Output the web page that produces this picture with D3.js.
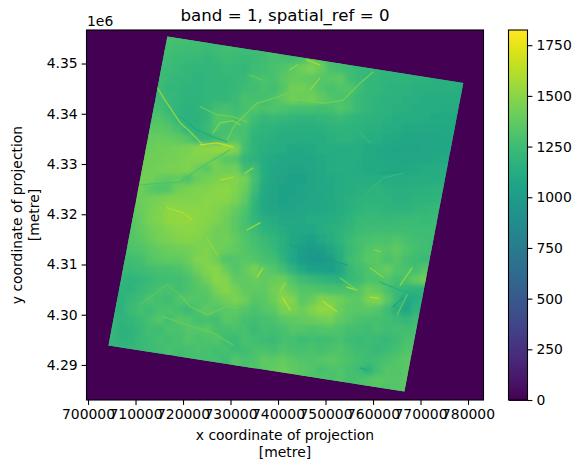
<!DOCTYPE html>
<html>
<head>
<meta charset="utf-8">
<script src="https://cdn.jsdelivr.net/npm/d3@7"></script>
<style>
html, body { margin: 0; padding: 0; background: #fff; }
text { font-family: "DejaVu Sans", sans-serif; fill: #000; }
</style>
</head>
<body>
<svg id="chart" width="581" height="469"></svg>
<script>
// raster: one row every 2 km, first cell at 704 km
var xStart = 704000, yStart = 4356000, cellSize = 2000
var rowStart = [6,5,5,5,5,5,5,4,4,4,4,3,3,3,3,3,3,2,2,2,2,2,1,1,1,1,0,0,0,0,0,0,7,13,20,26]
var rowValues = [
    [1290,1280,1290,1270,1260],
    [1280,1270,1260,1250,1260,1240,1250,1270,1260,1250,1260,1270,1280],
    [1270,1250,1240,1230,1220,1210,1220,1250,1240,1230,1240,1260,1290,1280,1270,1310,1380,1360,1280,1260],
    [1260,1240,1220,1210,1200,1200,1210,1230,1220,1210,1250,1260,1300,1320,1360,1420,1460,1400,1300,1280,1250,1230,1220,1210,1200,1190,1190],
    [1250,1220,1210,1200,1190,1200,1210,1210,1220,1230,1280,1300,1290,1350,1390,1390,1370,1330,1350,1370,1270,1230,1210,1200,1190,1180,1180,1170,1170,1160,1160,1160,1160],
    [1240,1210,1200,1190,1190,1200,1200,1200,1220,1250,1270,1300,1270,1330,1420,1430,1390,1340,1300,1320,1330,1250,1210,1200,1180,1170,1170,1160,1150,1150,1150,1150,1140],
    [1250,1220,1200,1180,1180,1200,1210,1210,1240,1300,1280,1280,1310,1370,1430,1400,1430,1380,1330,1310,1280,1230,1210,1190,1170,1170,1160,1150,1140,1140,1140,1130,1130],
    [1290,1270,1220,1190,1170,1180,1200,1270,1290,1260,1280,1320,1300,1320,1310,1290,1280,1280,1270,1280,1320,1290,1230,1200,1180,1170,1160,1150,1140,1140,1130,1120,1120],
    [1320,1320,1280,1200,1170,1170,1210,1320,1320,1280,1330,1250,1210,1220,1210,1200,1190,1190,1200,1210,1230,1200,1190,1180,1170,1160,1140,1130,1130,1120,1110,1110,1110],
    [1360,1360,1340,1290,1190,1190,1230,1310,1280,1300,1290,1210,1190,1180,1160,1150,1150,1150,1160,1170,1190,1180,1170,1160,1150,1130,1120,1100,1100,1100,1100,1100,1100],
    [1390,1400,1390,1370,1330,1210,1210,1260,1310,1330,1280,1190,1170,1150,1140,1130,1120,1130,1140,1150,1170,1170,1150,1140,1130,1110,1100,1080,1080,1080,1080,1090,1090],
    [1400,1410,1420,1430,1440,1460,1490,1510,1530,1530,1480,1270,1190,1150,1140,1120,1100,1100,1110,1130,1140,1140,1130,1130,1110,1100,1080,1070,1070,1070,1080,1090,1090,1090],
    [1410,1420,1430,1440,1450,1470,1480,1470,1430,1350,1330,1210,1170,1140,1110,1090,1080,1080,1090,1110,1120,1130,1130,1120,1110,1100,1090,1090,1080,1090,1090,1100,1110],
    [1420,1430,1440,1450,1460,1470,1420,1350,1440,1420,1430,1260,1260,1130,1090,1070,1060,1060,1080,1100,1120,1130,1130,1120,1110,1110,1100,1100,1100,1110,1120,1120,1130],
    [1430,1440,1390,1370,1390,1320,1400,1440,1460,1480,1480,1440,1280,1120,1080,1060,1050,1050,1070,1090,1110,1120,1130,1130,1130,1120,1120,1120,1120,1130,1140,1140,1150],
    [1420,1350,1320,1340,1430,1450,1470,1480,1500,1510,1470,1410,1250,1110,1070,1050,1050,1060,1070,1090,1100,1120,1130,1150,1160,1170,1160,1150,1150,1160,1160,1170,1180],
    [1410,1430,1450,1470,1470,1470,1480,1500,1500,1490,1460,1370,1200,1100,1060,1050,1060,1060,1080,1090,1110,1120,1150,1170,1180,1180,1170,1160,1160,1170,1180,1190,1200],
    [1360,1400,1440,1470,1500,1500,1500,1500,1500,1480,1450,1390,1320,1190,1100,1070,1060,1060,1080,1090,1100,1110,1130,1160,1190,1210,1200,1190,1190,1190,1200,1210,1220],
    [1350,1390,1450,1480,1520,1530,1530,1510,1490,1470,1420,1360,1290,1200,1150,1120,1090,1090,1100,1120,1120,1140,1150,1180,1220,1230,1230,1220,1230,1240,1240,1230,1240],
    [1340,1380,1420,1450,1480,1500,1510,1500,1470,1420,1420,1360,1300,1250,1190,1160,1120,1100,1090,1090,1120,1150,1170,1210,1240,1260,1260,1260,1260,1260,1250,1250,1250],
    [1330,1350,1400,1440,1460,1480,1490,1480,1450,1420,1430,1390,1330,1280,1240,1200,1150,1100,1060,1050,1090,1130,1190,1240,1280,1290,1310,1300,1320,1290,1270,1260,1250],
    [1310,1320,1360,1390,1410,1430,1430,1450,1470,1430,1410,1380,1340,1300,1260,1220,1160,1090,1030,990,1020,1070,1150,1230,1280,1330,1350,1340,1370,1320,1280,1260,1250],
    [1270,1260,1280,1330,1360,1380,1370,1410,1470,1480,1420,1320,1330,1350,1330,1290,1270,1190,1090,1010,970,960,1020,1130,1250,1300,1350,1360,1300,1340,1280,1250,1240],
    [1240,1230,1250,1270,1290,1290,1310,1350,1420,1480,1490,1410,1330,1380,1450,1370,1330,1270,1180,1100,1050,1040,1020,1070,1210,1270,1310,1360,1400,1320,1300,1280,1340],
    [1210,1190,1200,1230,1260,1270,1270,1300,1360,1430,1500,1480,1370,1370,1400,1380,1400,1410,1320,1260,1220,1200,1190,1160,1220,1250,1310,1310,1320,1270,1300,1380,1430],
    [1190,1170,1220,1260,1290,1300,1270,1300,1340,1360,1450,1490,1440,1370,1370,1370,1430,1460,1390,1330,1330,1310,1300,1300,1300,1340,1410,1380,1300,1240,1200,1170,1190],
    [1210,1180,1220,1250,1310,1280,1260,1320,1340,1330,1330,1390,1430,1460,1420,1340,1360,1410,1490,1480,1350,1390,1470,1450,1420,1370,1360,1450,1480,1360,1220,1110,1140,1230],
    [1190,1170,1240,1280,1250,1300,1310,1280,1240,1310,1370,1330,1350,1370,1340,1300,1340,1360,1450,1460,1410,1470,1520,1510,1410,1360,1350,1360,1330,1250,1150,1080,1190],
    [1220,1190,1210,1240,1280,1340,1270,1340,1330,1280,1290,1270,1350,1330,1280,1270,1290,1300,1350,1370,1390,1400,1420,1440,1370,1340,1300,1290,1280,1270,1240,1210,1250],
    [1210,1170,1180,1220,1270,1250,1310,1300,1340,1330,1360,1300,1280,1300,1290,1240,1280,1270,1290,1340,1330,1310,1320,1330,1310,1280,1270,1250,1290,1260,1270,1270,1290],
    [1210,1170,1190,1230,1250,1280,1270,1290,1330,1300,1310,1330,1260,1240,1300,1270,1250,1240,1280,1280,1250,1270,1260,1270,1300,1250,1240,1250,1240,1220,1260,1300,1310],
    [1190,1200,1210,1230,1250,1260,1300,1270,1280,1300,1290,1270,1290,1250,1260,1300,1310,1280,1320,1290,1290,1310,1280,1310,1320,1290,1260,1250,1220,1250,1280,1320,1330],
    [1250,1300,1290,1280,1280,1250,1330,1290,1310,1370,1360,1390,1350,1330,1320,1340,1360,1330,1310,1280,1250,1270,1300,1330,1360],
    [1340,1300,1320,1350,1390,1410,1380,1350,1330,1290,1310,1320,1290,1250,1190,1280,1340,1330,1350],
    [1320,1310,1330,1300,1320,1280,1300,1330,1350,1340,1340,1360],
    [1310,1330,1340,1320,1340,1350]
]

// corners of the valid scene, in km
var sceneCorners = [[716.7, 4355.4], [779.0, 4346.1], [766.6, 4284.7], [704.3, 4293.9]]

// ridges and valleys that are too narrow for the 2 km rows, in km
var streakValues = [1560, 1720, 1100, 1420, 1500, 1450, 1450, 1600, 1550, 1550, 1400, 1300, 1620, 1600, 1620, 1600, 1620, 1660, 1550, 1420, 1400, 1350, 1520, 1650, 1660, 1660, 1550, 1560, 1020, 1120, 1000, 1050, 1450, 1400, 1520, 1040, 1230, 1250]
var streakLines = [
    [[714.5,4345.3],[716.2,4342.7],[719.4,4338.2],[721.5,4336.4],[724.2,4333.8]],
    [[723.6,4333.8],[727.2,4334.2],[730.5,4333.4]],
    [[719.4,4339.4],[722.9,4336.8],[726.3,4335.4],[729.3,4334.4]],
    [[723.6,4341.4],[727.2,4339.8],[730.5,4339.4],[733.5,4338.4]],
    [[726.3,4336.2],[727.8,4338.2],[730.5,4338.6],[732,4337.8]],
    [[729.3,4334.8],[730.5,4337.2],[732.6,4339.4],[735.6,4342.1],[739.8,4343.3],[742.5,4344.3]],
    [[742.5,4343.1],[745.3,4342.7],[749.5,4342.1],[753.7,4342.7],[757.3,4346.1],[760,4348.3]],
    [[746.1,4350.7],[748.8,4349.7]],
    [[746.7,4344.7],[748.8,4347.1]],
    [[742.5,4348.7],[744,4349.7]],
    [[734.1,4347.7],[736.8,4346.7]],
    [[729.9,4332.8],[726.3,4330.8],[722.9,4328.8],[719.4,4326.4],[715.2,4326.2],[710.9,4325.8]],
    [[727.8,4326.8],[730.5,4327.4]],
    [[733.1,4328.2],[734.7,4329.2]],
    [[716.6,4321.3],[720,4320.3],[721.9,4318.9]],
    [[733.5,4316.9],[736.2,4318.3]],
    [[735.6,4307.5],[736.8,4309.3]],
    [[741,4303.3],[742.5,4301]],
    [[740.4,4304.5],[741.5,4306.3]],
    [[719.4,4303.9],[721.5,4301.6],[725.1,4300],[729.3,4301.6],[732,4301.4]],
    [[715.8,4299.6],[720.8,4298],[726.3,4296.4],[730.5,4294]],
    [[710.9,4302],[716.6,4306],[719.4,4303.9]],
    [[725,4315.3],[727.2,4311.9]],
    [[754.5,4305.5],[756.6,4304.9]],
    [[759.4,4303.5],[761.1,4303.3]],
    [[749.5,4302.6],[752.4,4300.6]],
    [[759.4,4309.3],[762.1,4307.5]],
    [[765.7,4305.9],[768.2,4309.3]],
    [[764.2,4301.6],[766.3,4303.4]],
    [[761.5,4306.5],[765.7,4304.9],[770.3,4303.5]],
    [[742.5,4313.9],[747.4,4311.9],[754.5,4309.9]],
    [[757.3,4289.4],[758.7,4289]],
    [[753.1,4307.3],[756.6,4304.9]],
    [[765.1,4300],[767.2,4304]],
    [[760.4,4312.9],[761.5,4312.5]],
    [[761.5,4328.2],[766.3,4328.4]],
    [[758.7,4324.2],[762.1,4327.2],[766.3,4328.2]],
    [[757.3,4336.2],[759.4,4334.2]]
]

var xTicks = [700000, 710000, 720000, 730000, 740000, 750000, 760000, 770000, 780000]
var yTicks = [4290000, 4300000, 4310000, 4320000, 4330000, 4340000, 4350000]
var barTicks = [0, 250, 500, 750, 1000, 1250, 1500, 1750]
var valueMax = 1825

var margin = { top: 30, left: 86.5, right: 483.5, bottom: 400 }
var svg = d3.select("#chart")

var x = d3.scaleLinear().domain([699680, 783260]).range([margin.left, margin.right])
var y = d3.scaleLinear().domain([4283030, 4356670]).range([margin.bottom, margin.top])
var color = d3.scaleSequential(d3.interpolateViridis).domain([0, valueMax])

// raster
svg.append("rect")
    .attr("x", margin.left)
    .attr("y", margin.top)
    .attr("width", margin.right - margin.left)
    .attr("height", margin.bottom - margin.top)
    .attr("fill", color(0))

var defs = svg.append("defs")

defs.append("clipPath")
    .attr("id", "scene")
    .append("polygon")
    .attr("points", sceneCorners.map(function (d) {
        return [x(d[0] * 1000), y(d[1] * 1000)].join(",")
    }).join(" "))

// softens the 2 km blocks
defs.append("filter")
    .attr("id", "soft")
    .append("feGaussianBlur")
    .attr("stdDeviation", 2.5)

var scene = svg.append("g").attr("clip-path", "url(#scene)")

var cells = []
rowValues.forEach(function (row, r) {
    row.forEach(function (v, i) {
        cells.push({ col: rowStart[r] + i, row: r, value: v })
    })
})

// sharp copy underneath so the soft edge does not fade into the background
function drawCells(g) {
    g.selectAll("rect")
        .data(cells)
        .enter()
        .append("rect")
        .attr("x", function (d) { return x(xStart + d.col * cellSize) })
        .attr("y", function (d) { return y(yStart - d.row * cellSize) })
        .attr("width", x(cellSize) - x(0) + 0.5)
        .attr("height", y(0) - y(cellSize) + 0.5)
        .attr("fill", function (d) { return color(d.value) })
}

scene.append("g").call(drawCells)
scene.append("g").attr("filter", "url(#soft)").call(drawCells)

var line = d3.line()
    .x(function (d) { return x(d[0] * 1000) })
    .y(function (d) { return y(d[1] * 1000) })

scene.append("g")
    .selectAll("path")
    .data(streakLines)
    .enter()
    .append("path")
    .attr("d", line)
    .attr("fill", "none")
    .attr("stroke", function (d, i) { return color(streakValues[i]) })
    .attr("stroke-width", 1.4)
    .attr("stroke-opacity", 0.8)
    .attr("stroke-linecap", "round")
    .attr("stroke-linejoin", "round")

// axes
function styleAxis(g) {
    g.selectAll(".domain").remove()
    g.selectAll(".tick line").attr("stroke", "#000").attr("stroke-width", 1.1)
    g.selectAll("text").attr("font-size", 13.9).attr("fill", "#000")
}

svg.append("g")
    .attr("transform", "translate(0," + margin.bottom + ")")
    .call(d3.axisBottom(x).tickValues(xTicks).tickFormat(d3.format("d")).tickSize(4.9).tickPadding(4))
    .call(styleAxis)

svg.append("g")
    .attr("transform", "translate(" + margin.left + ",0)")
    .call(d3.axisLeft(y).tickValues(yTicks).tickFormat(function (d) { return d3.format(".2f")(d / 1e6) }).tickSize(4.9).tickPadding(4))
    .call(styleAxis)

svg.append("rect")
    .attr("x", margin.left)
    .attr("y", margin.top)
    .attr("width", margin.right - margin.left)
    .attr("height", margin.bottom - margin.top)
    .attr("fill", "none")
    .attr("stroke", "#000")
    .attr("stroke-width", 1.1)

// colorbar
var bar = { left: 508.5, right: 527.5 }
var barY = d3.scaleLinear().domain([0, valueMax]).range([margin.bottom, margin.top])

svg.append("g")
    .attr("shape-rendering", "crispEdges")
    .selectAll("rect")
    .data(d3.range(0, 256))
    .enter()
    .append("rect")
    .attr("x", bar.left)
    .attr("width", bar.right - bar.left)
    .attr("y", function (d) { return barY((d + 1) / 256 * valueMax) })
    .attr("height", (margin.bottom - margin.top) / 256 + 1)
    .attr("fill", function (d) { return color((d + 0.5) / 256 * valueMax) })

svg.append("g")
    .attr("transform", "translate(" + bar.right + ",0)")
    .call(d3.axisRight(barY).tickValues(barTicks).tickFormat(d3.format("d")).tickSize(4.9).tickPadding(4))
    .call(styleAxis)

svg.append("rect")
    .attr("x", bar.left)
    .attr("y", margin.top)
    .attr("width", bar.right - bar.left)
    .attr("height", margin.bottom - margin.top)
    .attr("fill", "none")
    .attr("stroke", "#000")
    .attr("stroke-width", 1.1)

// labels
svg.append("text")
    .attr("x", 285)
    .attr("y", 21)
    .attr("text-anchor", "middle")
    .attr("font-size", 16.67)
    .text("band = 1, spatial_ref = 0")

svg.append("text")
    .attr("x", 87)
    .attr("y", 26)
    .attr("font-size", 13.9)
    .text("1e6")

svg.append("text")
    .attr("x", 285)
    .attr("y", 440)
    .attr("text-anchor", "middle")
    .attr("font-size", 13.9)
    .text("x coordinate of projection")

svg.append("text")
    .attr("x", 285)
    .attr("y", 457)
    .attr("text-anchor", "middle")
    .attr("font-size", 13.9)
    .text("[metre]")

svg.append("text")
    .attr("transform", "translate(22,215) rotate(-90)")
    .attr("text-anchor", "middle")
    .attr("font-size", 13.9)
    .text("y coordinate of projection")

svg.append("text")
    .attr("transform", "translate(39,215) rotate(-90)")
    .attr("text-anchor", "middle")
    .attr("font-size", 13.9)
    .text("[metre]")
</script>
</body>
</html>
